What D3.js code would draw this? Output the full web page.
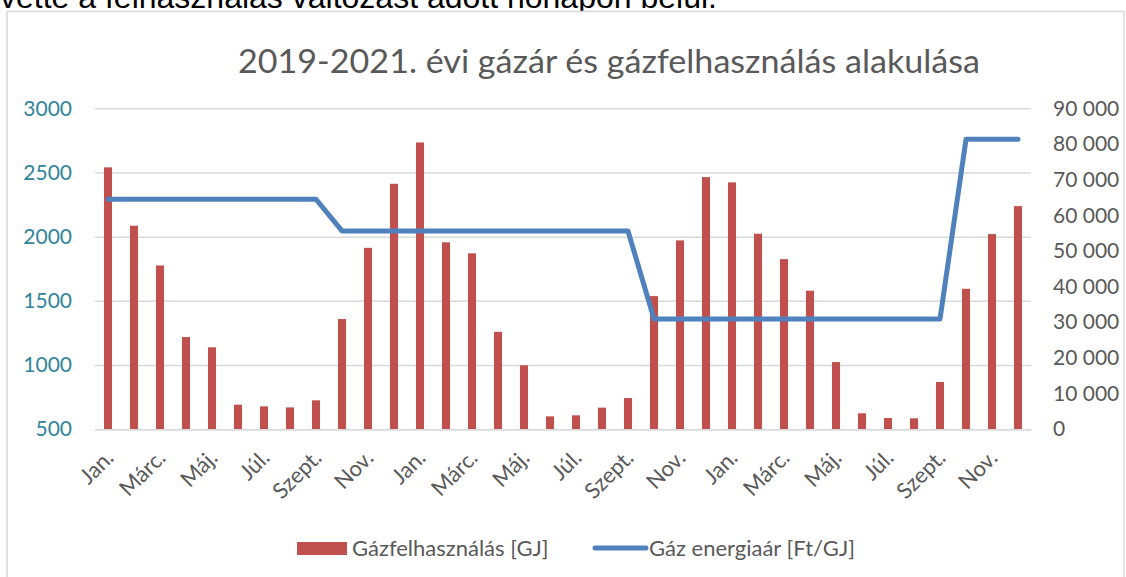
<!DOCTYPE html>
<html>
<head>
<meta charset="utf-8">
<script src="https://cdn.jsdelivr.net/npm/d3@7"></script>
<style>
body { margin: 0; background: #fff; }
svg  { display: block; }
</style>
</head>
<body>
<svg id="chart" width="1126" height="577"></svg>
<script>
"use strict"

var years      = [2019, 2020, 2021];
var monthNames = ["Jan.", "Febr.", "Márc.", "Ápr.", "Máj.", "Jún.",
                  "Júl.", "Aug.", "Szept.", "Okt.", "Nov.", "Dec."];

// Gázfelhasználás [GJ], havonta 2019 jan. - 2021 dec.
var usage = [2540, 2085, 1776, 1218, 1138,  691,  678,  670,  725, 1358, 1913, 2412,
             2734, 1956, 1870, 1259,  998,  600,  608,  668,  743, 1537, 1971, 2464,
             2423, 2023, 1825, 1579, 1023,  624,  587,  585,  868, 1594, 2020, 2238];

// Gáz energiaár [Ft/GJ]
var price = [64500, 64500, 64500, 64500, 64500, 64500, 64500, 64500, 64500, 55600, 55600, 55600,
             55600, 55600, 55600, 55600, 55600, 55600, 55600, 55600, 55600, 30900, 30900, 30900,
             30900, 30900, 30900, 30900, 30900, 30900, 30900, 30900, 30900, 81300, 81300, 81300];

var usageTicks = [500, 1000, 1500, 2000, 2500, 3000];
var priceTicks = [0, 10000, 20000, 30000, 40000, 50000, 60000, 70000, 80000, 90000];

var titleText   = "2019-2021. évi gázár és gázfelhasználás alakulása";
var usageLabel  = "Gázfelhasználás [GJ]";
var priceLabel  = "Gáz energiaár [Ft/GJ]";
var captionText = "vette a felhasználás változást adott hónapon belül.";

var font      = "Lato, 'Open Sans', sans-serif";
var barColor  = "#c0504d";
var lineColor = "#4f81bd";
var gridColor = "#d9d9d9";
var textGrey  = "#595959";
var textTeal  = "#31849b";

var categories = [];
years.forEach(function(y) {
    monthNames.forEach(function(m) { categories.push(y + " " + m); });
});

var plot = { left: 95, right: 1031, top: 108.3, bottom: 429.2 };

var svg = d3.select("#chart");

var x = d3.scaleBand()
    .domain(categories)
    .range([plot.left, plot.right])
    .paddingInner(0.69)
    .paddingOuter(0.345);

var yUsage = d3.scaleLinear()
    .domain([usageTicks[0], usageTicks[usageTicks.length - 1]])
    .range([plot.bottom, plot.top]);

var yPrice = d3.scaleLinear()
    .domain([priceTicks[0], priceTicks[priceTicks.length - 1]])
    .range([plot.bottom, plot.top]);

var huFormat = d3.formatLocale({
    decimal: ",", thousands: " ", grouping: [3], currency: ["", " Ft"]
}).format(",");

function center(d) { return x(d) + x.bandwidth() / 2; }

// text above the chart, cut off by the picture edge (as in the source)
svg.append("text")
    .attr("x", 0)
    .attr("y", 8)
    .attr("font-family", "'Liberation Sans', Arial, sans-serif")
    .attr("font-size", "32px")
    .style("fill", "#000")
    .text(captionText);

// chart area border
svg.append("rect")
    .attr("x", 7)
    .attr("y", 11.5)
    .attr("width", 1117)
    .attr("height", 600)
    .style("fill", "#fff")
    .style("stroke", gridColor)
    .style("stroke-width", 1.5);

// gridlines
var grid = svg.append("g")
    .attr("transform", "translate(" + plot.left + ",0)")
    .call(d3.axisLeft(yUsage)
        .tickValues(usageTicks)
        .tickSize(-(plot.right - plot.left))
        .tickFormat(""));
grid.select(".domain").remove();
grid.selectAll("line")
    .style("stroke", gridColor)
    .style("stroke-width", 1.5);

// left axis labels
var leftAxis = svg.append("g")
    .attr("transform", "translate(" + plot.left + ",0)")
    .call(d3.axisLeft(yUsage)
        .tickValues(usageTicks)
        .tickSize(0)
        .tickPadding(23)
        .tickFormat(d3.format("d")));
leftAxis.select(".domain").remove();
leftAxis.selectAll("text")
    .attr("font-family", font)
    .attr("font-size", "21px")
    .style("fill", textTeal);

// right axis labels
var rightAxis = svg.append("g")
    .attr("transform", "translate(" + plot.right + ",0)")
    .call(d3.axisRight(yPrice)
        .tickValues(priceTicks)
        .tickSize(0)
        .tickPadding(22)
        .tickFormat(huFormat));
rightAxis.select(".domain").remove();
rightAxis.selectAll("text")
    .attr("font-family", font)
    .attr("font-size", "21px")
    .style("fill", textGrey);

// bars
svg.append("g")
    .selectAll("rect.bar").data(usage)
    .enter()
    .append("rect")
    .attr("class", "bar")
    .attr("x", (d, i) => x(categories[i]))
    .attr("y", d => yUsage(d))
    .attr("width", x.bandwidth())
    .attr("height", d => yUsage(usageTicks[0]) - yUsage(d))
    .style("fill", barColor);

// bottom axis
var bottomAxis = svg.append("g")
    .attr("transform", "translate(0," + plot.bottom + ")")
    .call(d3.axisBottom(x)
        .tickSize(0)
        .tickFormat((d, i) => (i % 2 == 0) ? monthNames[i % 12] : ""));
bottomAxis.select(".domain")
    .style("stroke", gridColor)
    .style("stroke-width", 1.5);
bottomAxis.selectAll("text")
    .attr("font-family", font)
    .attr("font-size", "22px")
    .style("fill", textGrey)
    .attr("text-anchor", "end")
    .attr("dy", null)
    .attr("y", 0)
    .attr("transform", "translate(7,30) rotate(-45)");

// price line
var line = d3.line()
    .x((d, i) => center(categories[i]))
    .y(d => yPrice(d));

svg.append("path")
    .datum(price)
    .attr("d", line)
    .style("fill", "none")
    .style("stroke", lineColor)
    .style("stroke-width", 5)
    .style("stroke-linejoin", "round")
    .style("stroke-linecap", "round");

// title
svg.append("text")
    .attr("x", 609)
    .attr("y", 73)
    .attr("text-anchor", "middle")
    .attr("font-family", font)
    .attr("font-size", "32px")
    .attr("textLength", 742)
    .attr("lengthAdjust", "spacingAndGlyphs")
    .style("fill", textGrey)
    .text(titleText);

// legend
var legend = svg.append("g").attr("transform", "translate(0,548)");
legend.append("rect")
    .attr("x", 297).attr("y", -6)
    .attr("width", 50).attr("height", 13)
    .style("fill", barColor);
legend.append("text")
    .attr("x", 352).attr("y", 8)
    .attr("font-family", font)
    .attr("font-size", "22px")
    .style("fill", textGrey)
    .text(usageLabel);
legend.append("line")
    .attr("x1", 595).attr("x2", 646)
    .attr("y1", 0).attr("y2", 0)
    .style("stroke", lineColor)
    .style("stroke-width", 5)
    .style("stroke-linecap", "round");
legend.append("text")
    .attr("x", 649).attr("y", 8)
    .attr("font-family", font)
    .attr("font-size", "22px")
    .style("fill", textGrey)
    .text(priceLabel);
</script>
</body>
</html>
